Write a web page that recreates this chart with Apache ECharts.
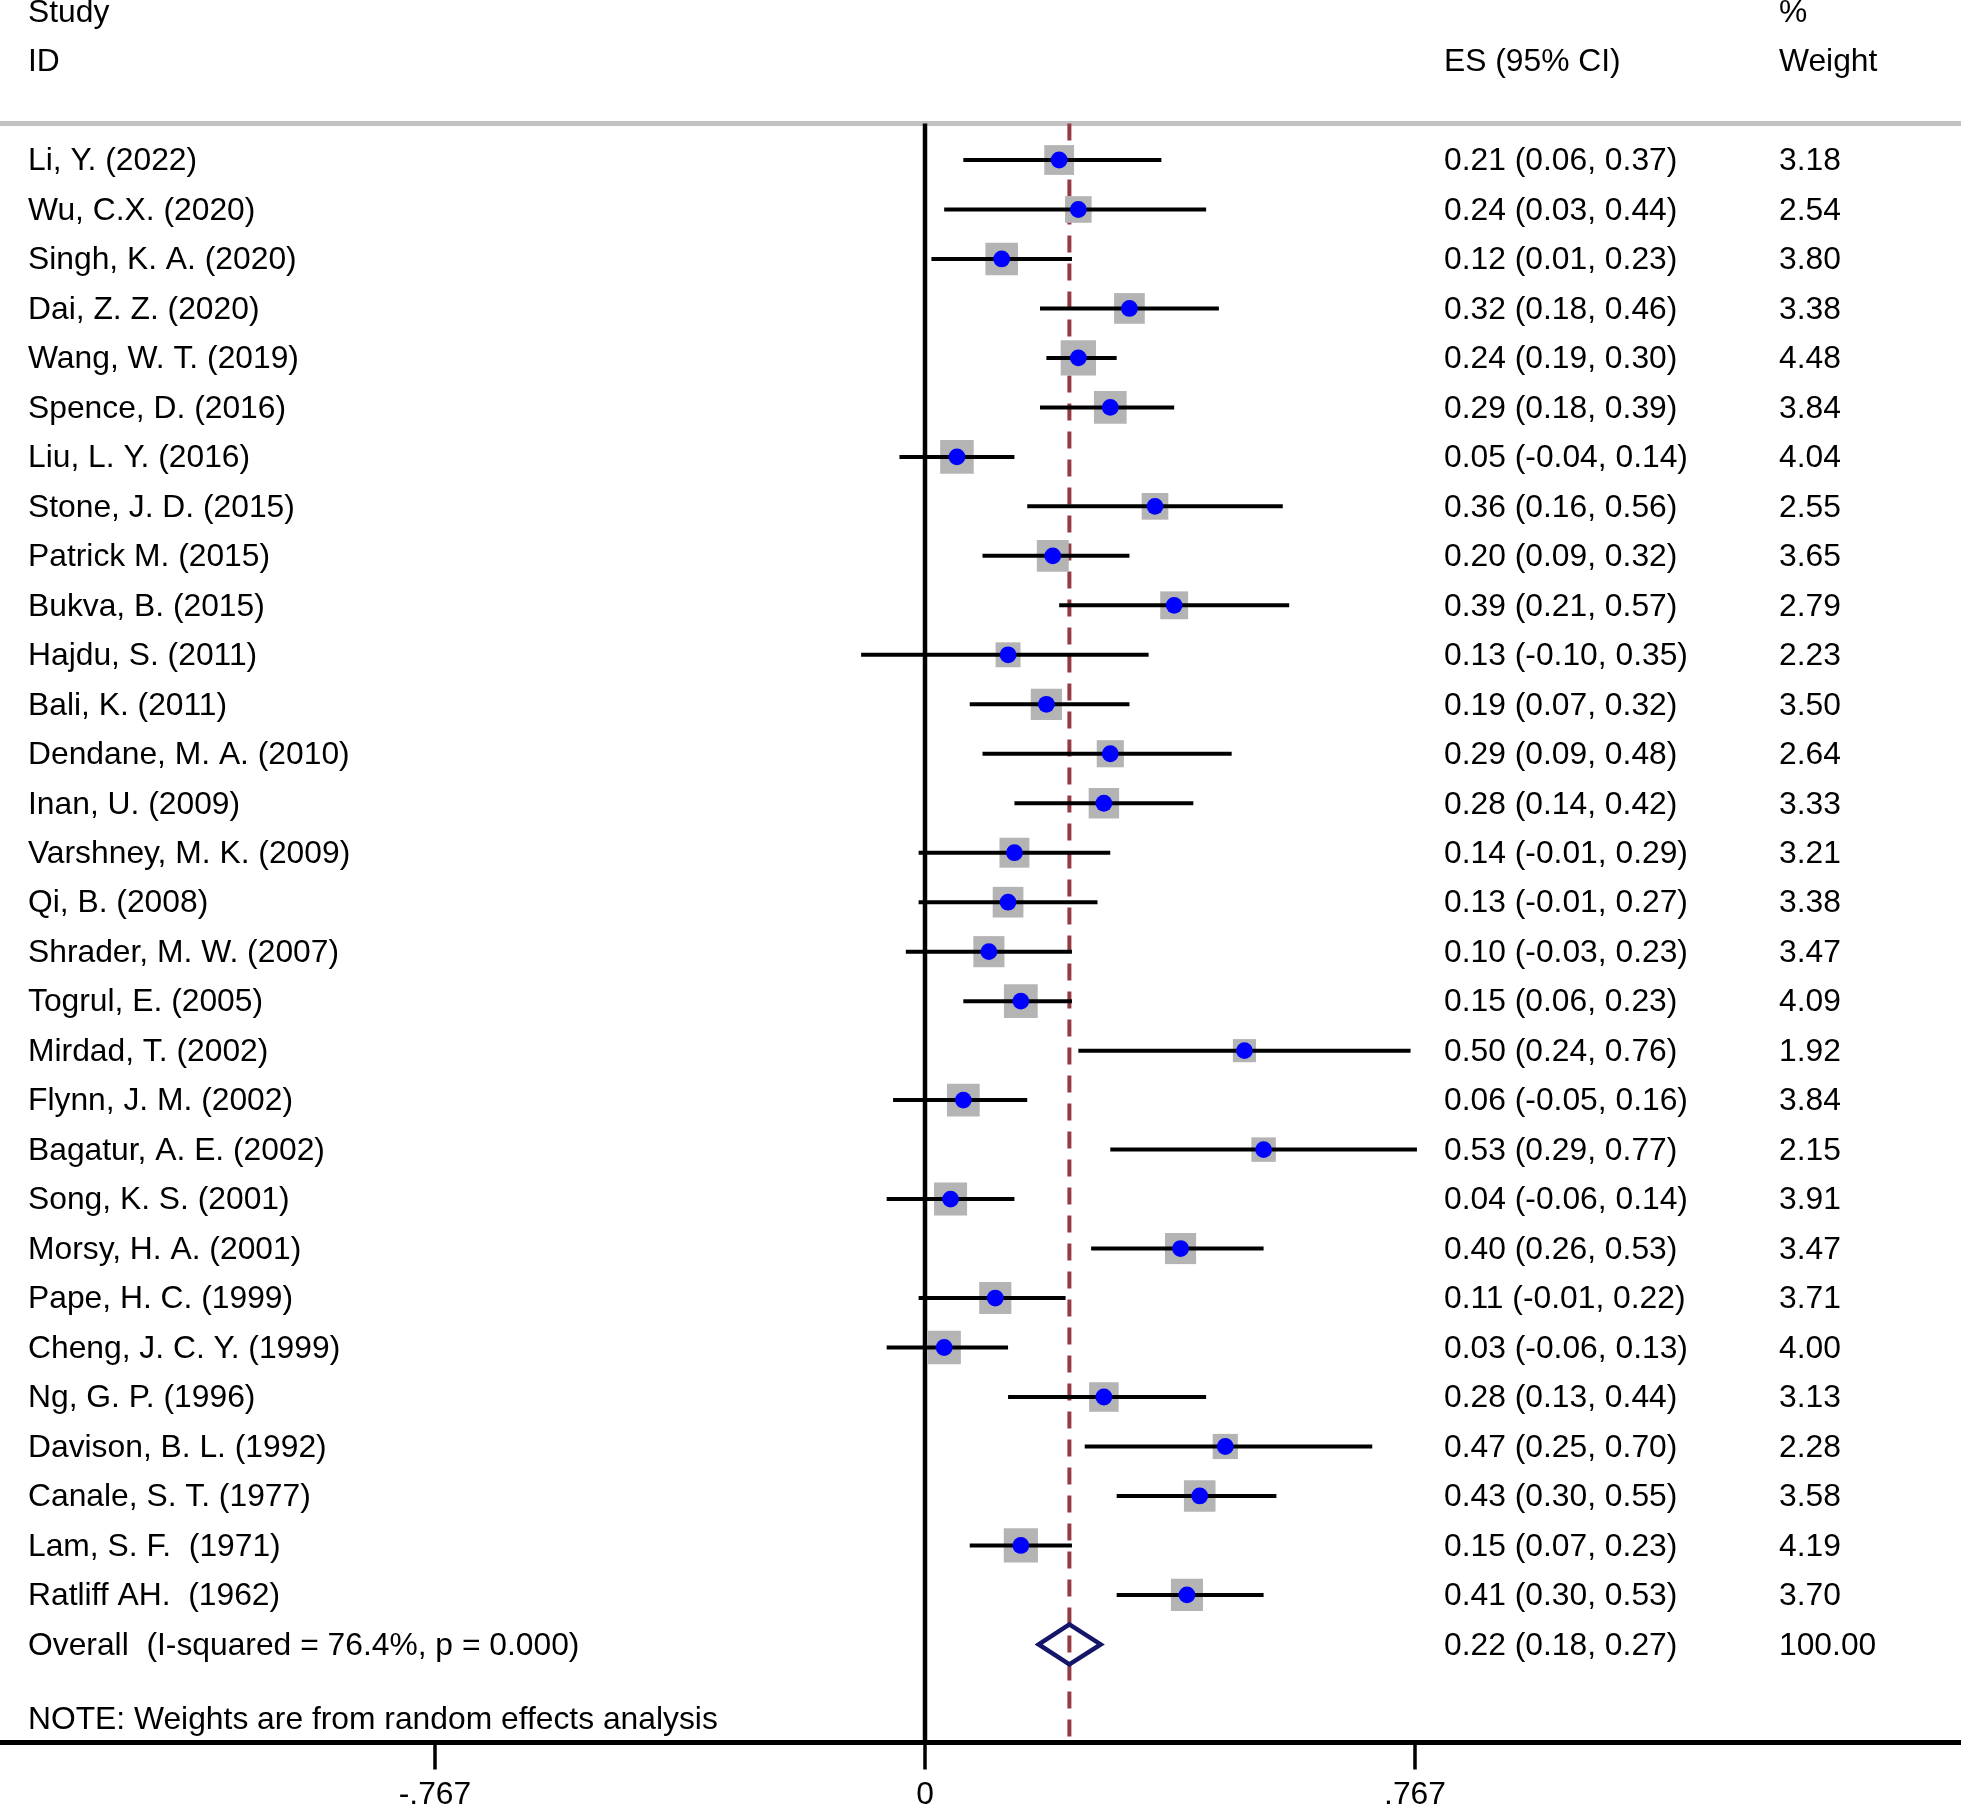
<!DOCTYPE html>
<html><head><meta charset="utf-8">
<script src="https://cdn.jsdelivr.net/npm/echarts@6/dist/echarts.min.js"></script>
<style>html,body{margin:0;padding:0;background:#fff}#c{width:1961px;height:1808px}</style>
</head><body><div id="c"></div>
<script>
// ---------------- data ----------------
const studies = ['Li, Y. (2022)','Wu, C.X. (2020)','Singh, K. A. (2020)','Dai, Z. Z. (2020)','Wang, W. T. (2019)',
  'Spence, D. (2016)','Liu, L. Y. (2016)','Stone, J. D. (2015)','Patrick M. (2015)','Bukva, B. (2015)',
  'Hajdu, S. (2011)','Bali, K. (2011)','Dendane, M. A. (2010)','Inan, U. (2009)','Varshney, M. K. (2009)',
  'Qi, B. (2008)','Shrader, M. W. (2007)','Togrul, E. (2005)','Mirdad, T. (2002)','Flynn, J. M. (2002)',
  'Bagatur, A. E. (2002)','Song, K. S. (2001)','Morsy, H. A. (2001)','Pape, H. C. (1999)','Cheng, J. C. Y. (1999)',
  'Ng, G. P. (1996)','Davison, B. L. (1992)','Canale, S. T. (1977)','Lam, S. F.  (1971)','Ratliff AH.  (1962)'];
const es = [0.21,0.24,0.12,0.32,0.24,0.29,0.05,0.36,0.20,0.39,0.13,0.19,0.29,0.28,0.14,0.13,0.10,0.15,0.50,0.06,0.53,0.04,0.40,0.11,0.03,0.28,0.47,0.43,0.15,0.41];
const lo = [0.06,0.03,0.01,0.18,0.19,0.18,-0.04,0.16,0.09,0.21,-0.10,0.07,0.09,0.14,-0.01,-0.01,-0.03,0.06,0.24,-0.05,0.29,-0.06,0.26,-0.01,-0.06,0.13,0.25,0.30,0.07,0.30];
const hi = [0.37,0.44,0.23,0.46,0.30,0.39,0.14,0.56,0.32,0.57,0.35,0.32,0.48,0.42,0.29,0.27,0.23,0.23,0.76,0.16,0.77,0.14,0.53,0.22,0.13,0.44,0.70,0.55,0.23,0.53];
const weights = [3.18,2.54,3.80,3.38,4.48,3.84,4.04,2.55,3.65,2.79,2.23,3.50,2.64,3.33,3.21,3.38,3.47,4.09,1.92,3.84,2.15,3.91,3.47,3.71,4.00,3.13,2.28,3.58,4.19,3.70];
const overallLabel = 'Overall  (I-squared = 76.4%, p = 0.000)';
const overallES = 0.226;   // drawn position of pooled estimate
const overallLo = 0.178;
const overallHi = 0.275;
const overallText = '0.22 (0.18, 0.27)';
const overallWeight = '100.00';
const noteText = 'NOTE: Weights are from random effects analysis';
const headStudy = ['Study', 'ID'];
const headES = 'ES (95% CI)';
const headWeight = ['%', 'Weight'];
const xTicks = [-0.767, 0, 0.767];
const xTickLabels = ['-.767', '0', '.767'];

// ---------------- layout ----------------
const W = 1961, H = 1808, ZERO_PX = 925, UNIT = 638.9;
const XMIN = -ZERO_PX / UNIT, XMAX = (W - ZERO_PX) / UNIT;
const ROW_PX = 49.48, ROW0_PX = 160, AXIS_PX = 1742.5;
const YMIN = -ROW0_PX / ROW_PX, YMAX = YMIN + AXIS_PX / ROW_PX;
const RULE_ROW = (123.5 - ROW0_PX) / ROW_PX;
const NOTE_ROW = (1719 - ROW0_PX) / ROW_PX;
const OVERALL_ROW = studies.length;
const FONT = 'Liberation Sans, Arial, sans-serif';
const FS = 31.8;
const TEXT_DY = 1.5;
const X_NAME = 28, X_ES = 1444, X_W = 1779;

// text items
const texts = [];
texts.push({row: -3, x: X_NAME, t: headStudy[0]});
texts.push({row: -2, x: X_NAME, t: headStudy[1]});
texts.push({row: -2, x: X_ES, t: headES});
texts.push({row: -3, x: X_W, t: headWeight[0]});
texts.push({row: -2, x: X_W, t: headWeight[1]});
studies.forEach((s, i) => {
  texts.push({row: i, x: X_NAME, t: s});
  texts.push({row: i, x: X_ES, t: es[i].toFixed(2) + ' (' + lo[i].toFixed(2) + ', ' + hi[i].toFixed(2) + ')'});
  texts.push({row: i, x: X_W, t: weights[i].toFixed(2)});
});
texts.push({row: OVERALL_ROW, x: X_NAME, t: overallLabel});
texts.push({row: OVERALL_ROW, x: X_ES, t: overallText});
texts.push({row: OVERALL_ROW, x: X_W, t: overallWeight});
texts.push({row: NOTE_ROW, x: X_NAME, t: noteText});

const studyData = studies.map((s, i) => [i, es[i], lo[i], hi[i], weights[i]]);

const chart = echarts.init(document.getElementById('c'), null, {renderer: 'canvas'});
chart.setOption({
  animation: false,
  backgroundColor: '#ffffff',
  grid: {left: 0, right: 0, top: 0, bottom: H - AXIS_PX, containLabel: false, outerBoundsMode: 'none'},
  xAxis: {
    type: 'value', min: XMIN, max: XMAX,
    splitLine: {show: false},
    axisLine: {show: true, onZero: false, lineStyle: {color: '#000', width: 5}},
    axisTick: {show: true, customValues: xTicks, length: 27, lineStyle: {color: '#000', width: 3.5}},
    axisLabel: {show: true, customValues: xTicks, margin: 37, color: '#000', fontSize: FS, fontFamily: FONT,
      formatter: v => { let k = 0; xTicks.forEach((t, i) => { if (Math.abs(t - v) < Math.abs(xTicks[k] - v)) k = i; }); return xTickLabels[k]; }}
  },
  yAxis: {type: 'value', inverse: true, min: YMIN, max: YMAX, show: false},
  series: [
    {type: 'line', silent: true, symbol: 'none', z: 1, data: [[XMIN, RULE_ROW], [XMAX, RULE_ROW]],
      lineStyle: {color: '#c2c2c2', width: 5}},
    {type: 'line', silent: true, symbol: 'none', z: 2, data: [[0, RULE_ROW], [0, YMAX]],
      lineStyle: {color: '#000', width: 4.5}},
    {type: 'line', silent: true, symbol: 'none', z: 2, data: [[overallES, RULE_ROW], [overallES, YMAX]],
      lineStyle: {color: '#943a42', width: 4, type: [17, 11]}},
    {type: 'custom', z: 5, silent: true, data: studyData,
      renderItem: (params, api) => {
        const row = api.value(0);
        const pE = api.coord([api.value(1), row]);
        const pL = api.coord([api.value(2), row]);
        const pH = api.coord([api.value(3), row]);
        const side = 16.7 * Math.sqrt(api.value(4));
        return {type: 'group', children: [
          {type: 'rect', shape: {x: pE[0] - side / 2, y: pE[1] - side / 2, width: side, height: side}, style: {fill: '#b4b4b4'}},
          {type: 'line', shape: {x1: pL[0], y1: pL[1], x2: pH[0], y2: pH[1]}, style: {stroke: '#000', lineWidth: 4}},
          {type: 'circle', shape: {cx: pE[0], cy: pE[1], r: 8.4}, style: {fill: '#0000ff'}}
        ]};
      }},
    {type: 'custom', z: 5, silent: true, data: [[OVERALL_ROW, overallES, overallLo, overallHi]],
      renderItem: (params, api) => {
        const row = api.value(0);
        const pE = api.coord([api.value(1), row]);
        const pL = api.coord([api.value(2), row]);
        const pH = api.coord([api.value(3), row]);
        const h = 20;
        return {type: 'polygon', shape: {points: [[pL[0], pL[1]], [pE[0], pE[1] - h], [pH[0], pH[1]], [pE[0], pE[1] + h]]},
          style: {fill: 'none', stroke: '#15156a', lineWidth: 4.5, lineJoin: 'miter'}};
      }},
    {type: 'custom', z: 6, silent: true, data: texts.map(d => [d.row]),
      renderItem: (params, api) => {
        const d = texts[params.dataIndex];
        const p = api.coord([0, api.value(0)]);
        return {type: 'text', x: d.x, y: p[1] + TEXT_DY,
          style: {text: d.t, fill: '#000', font: FS + 'px ' + FONT, textAlign: 'left', textVerticalAlign: 'middle'}};
      }}
  ]
});
</script>
</body></html>
